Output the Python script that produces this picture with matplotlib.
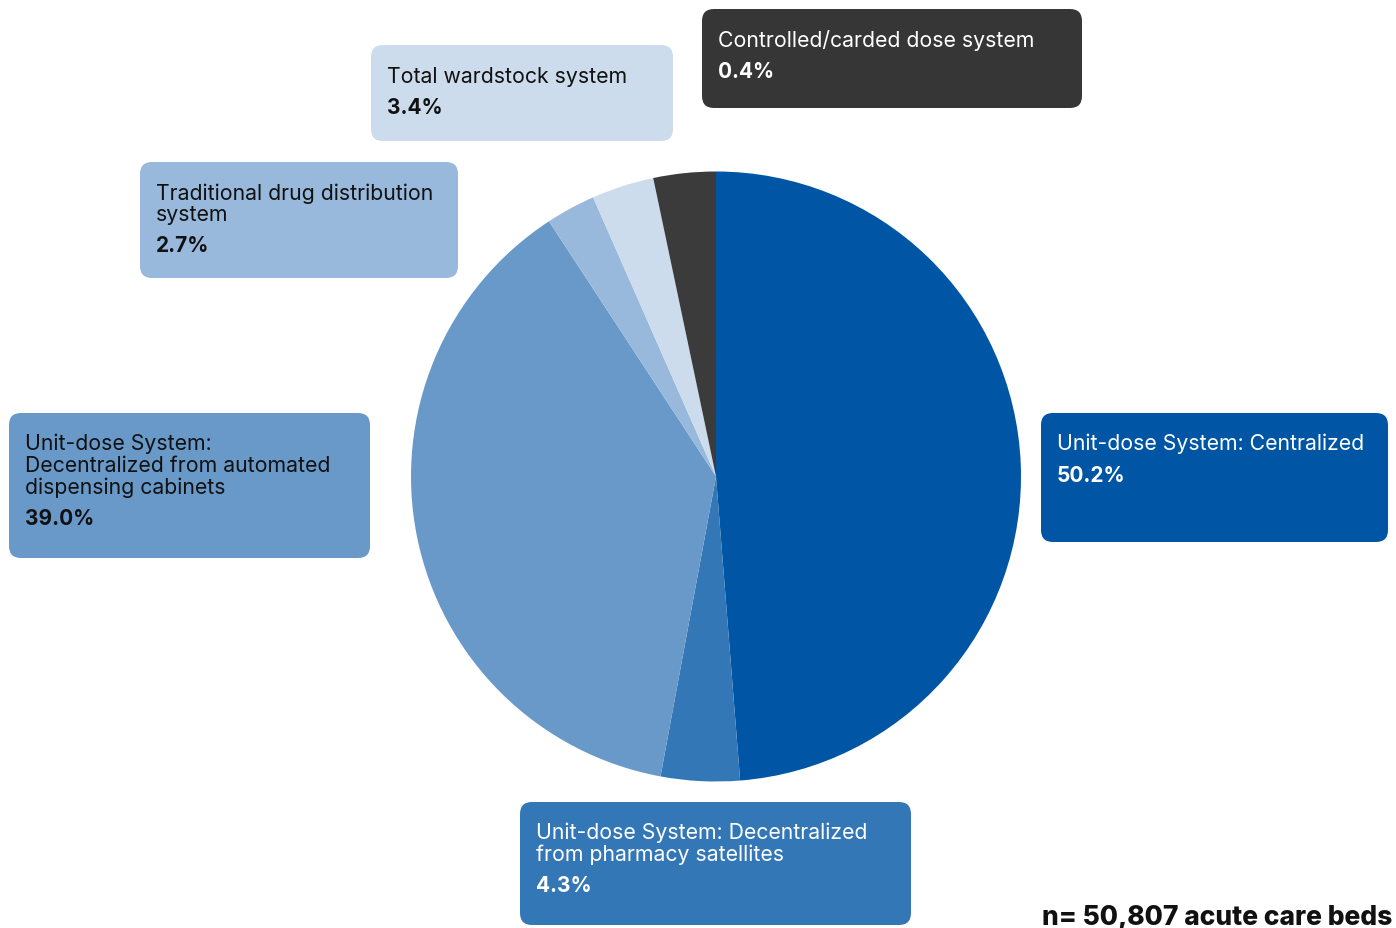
import matplotlib
matplotlib.use("Agg")
import matplotlib.pyplot as plt
from matplotlib.patches import FancyBboxPatch

plt.rcParams['font.family'] = ['Inter', 'DejaVu Sans']

# ---- data ----
categories = [
    "Unit-dose System: Centralized",
    "Unit-dose System: Decentralized\nfrom pharmacy satellites",
    "Unit-dose System:\nDecentralized from automated\ndispensing cabinets",
    "Traditional drug distribution\nsystem",
    "Total wardstock system",
    "Controlled/carded dose system",
]
pct_labels = ["50.2%", "4.3%", "39.0%", "2.7%", "3.4%", "0.4%"]
# wedge sizes as drawn in the reference (last slice is drawn at the same size as wardstock)
wedge_sizes = [50.2, 4.3, 39.0, 2.7, 3.4, 3.4]
slice_colors = ["#0055A5", "#3477B7", "#6899C9", "#99B9DC", "#CCDCEC", "#3B3B3B"]
box_colors = ["#0055A5", "#3477B7", "#6899C9", "#99B9DC", "#CCDCEC", "#363636"]
text_colors = ["white", "white", "#111111", "#111111", "#111111", "white"]
footnote = "n= 50,807 acute care beds"

# ---- layout (pixel boxes: left, top, right, bottom) ----
boxes = [
    (1041, 414, 1388, 543),
    (520, 803, 911, 926),
    (9, 414, 370, 559),
    (140, 163, 458, 279),
    (371, 46, 673, 142),
    (702, 10, 1082, 109),
]

W, H = 1396, 929
fig = plt.figure(figsize=(W / 100, H / 100), dpi=100)
ax = fig.add_axes([0, 0, 1, 1])
ax.set_xlim(0, W)
ax.set_ylim(0, H)
ax.set_aspect('equal')
ax.axis('off')

def Y(y):
    return H - y

ax.pie(wedge_sizes, colors=slice_colors, startangle=90, counterclock=False,
       center=(716, Y(477.5)), radius=305, frame=True,
       wedgeprops=dict(linewidth=0))
ax.set_xlim(0, W)
ax.set_ylim(0, H)
ax.axis('off')

fs = 15.3
line_h = 21.5
for cat, pct, (l, t, r, b), bc, tc in zip(categories, pct_labels, boxes, box_colors, text_colors):
    patch = FancyBboxPatch((l, Y(b)), r - l, b - t,
                           boxstyle="round,pad=0,rounding_size=12",
                           facecolor=bc, edgecolor='none', zorder=3)
    ax.add_patch(patch)
    lines = cat.split("\n")
    y0 = t + 36.5
    for i, ln in enumerate(lines):
        ax.text(l + 16, Y(y0 + i * line_h), ln, fontsize=fs, color=tc,
                va='baseline', ha='left', zorder=4)
    ylast = y0 + (len(lines) - 1) * line_h
    ax.text(l + 16, Y(ylast + 31.5), pct, fontsize=15, color=tc,
            fontweight='bold', va='baseline', ha='left', zorder=4)

ax.text(1392, Y(925), footnote, fontsize=19, fontweight='heavy', color='#111111',
        ha='right', va='baseline', zorder=4)

fig.savefig("out.png", dpi=100)
